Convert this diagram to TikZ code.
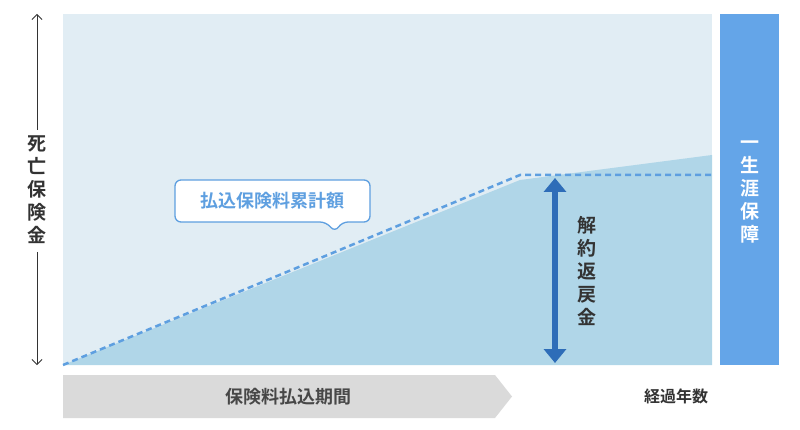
\documentclass[tikz,border=0pt]{standalone}
\usepackage{fontspec}
\setmainfont{Noto Sans CJK JP}[BoldFont={Noto Sans CJK JP Bold}]
\usetikzlibrary{arrows.meta}
\definecolor{bgl}{HTML}{E1EDF4}
\definecolor{fillb}{HTML}{B0D6E8}
\definecolor{barb}{HTML}{64A5E8}
\definecolor{dashb}{HTML}{5E9FE0}
\definecolor{arrb}{HTML}{2E6DB8}
\definecolor{grayb}{HTML}{DADADA}
\definecolor{txt}{HTML}{333333}
\tikzset{vtext/.style={align=center,font=\bfseries\fontsize{19}{23}\selectfont,inner sep=0pt}}
\begin{document}
\begin{tikzpicture}[x=1pt,y=-1pt]
\useasboundingbox (0,0) rectangle (800,430);
\fill[bgl] (63,14) rectangle (712,365);
\fill[fillb] (63,365) -- (520,180) -- (712,155) -- (712,365) -- cycle;
\fill[barb] (720,14) rectangle (779,365);
\node[vtext,white] (life) at (749.5,192) {一\\生\\涯\\保\\障};
\draw[dashb,line width=2.5pt,dash pattern=on 6pt off 4pt] (63,365) -- (520,175) -- (712,175);
\coordinate (at) at (555,178);
\coordinate (ab) at (555,363);
\draw[arrb,line width=6pt,{Triangle[length=14pt,width=22pt]}-{Triangle[length=14pt,width=22pt]}] (at) -- (ab);
\node[vtext,txt] (kaiyaku) at (587,271) {解\\約\\返\\戻\\金};
\draw[dashb,line width=1.3pt,fill=white,rounded corners=6pt]
  (175,180) -- (370,180) -- (370,222) -- (342,222) -- (335,232) -- (326,222) -- (175,222) -- cycle;
\node[font=\bfseries\fontsize{18}{20}\selectfont,dashb] (callout) at (272.5,201) {払込保険料累計額};
\node[vtext,txt] (death) at (37,190) {死\\亡\\保\\険\\金};
\coordinate (t) at (37,14);
\coordinate (b) at (37,365);
\draw[txt,line width=0.8pt,-{Straight Barb[length=5pt,width=10pt]}] (37,130) -- (t);
\draw[txt,line width=0.8pt,-{Straight Barb[length=5pt,width=10pt]}] (37,252) -- (b);
\fill[grayb] (63,375) -- (495,375) -- (512,396.5) -- (495,418) -- (63,418) -- cycle;
\node[font=\bfseries\fontsize{18}{20}\selectfont,txt!90!white] (period) at (288,396.5) {保険料払込期間};
\node[font=\bfseries\fontsize{16}{18}\selectfont,txt] (years) at (676,396.5) {経過年数};
\end{tikzpicture}
\end{document}
